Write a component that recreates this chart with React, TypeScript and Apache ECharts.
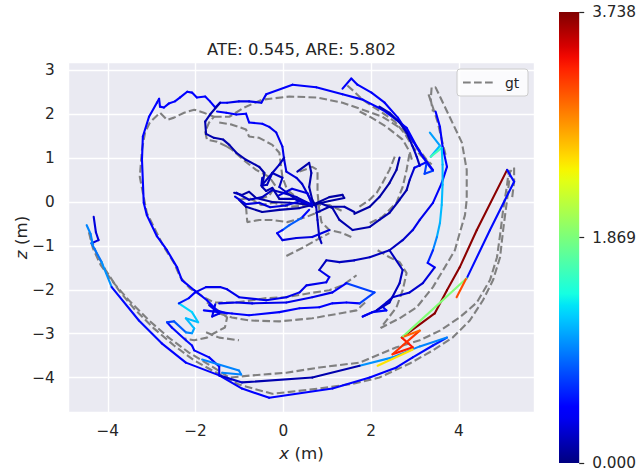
import React, { useEffect, useRef } from 'react';
import * as echarts from 'echarts';

const TITLE = 'ATE: 0.545, ARE: 5.802';
const LEGEND_LABEL = 'gt';
const ERR_MAX = 3.738;
const CBAR_TICKS = [0, 1.869, 3.738];
const X_RANGE = [-4.89, 5.72];
const Z_RANGE = [-4.8, 3.18];

// ---------- estimated trajectory pieces: [x, z, error] ----------
const estOuter = [
  [-4.32, -0.34, 0.3], [-4.27, -0.69, 0.3], [-4.21, -0.87, 0.3], [-4.37, -0.94, 0.9], [-4.14, -1.37, 1.0],
  [-3.91, -1.94, 0.5], [-3.29, -2.7, 0.5], [-2.77, -3.22, 0.45], [-2.22, -3.66, 0.45], [-1.46, -3.95, 0.45],
  [-0.94, -4.25, 0.45], [-0.32, -4.46, 0.45], [1.12, -4.25, 0.45], [1.97, -4.0, 0.45], [2.58, -3.77, 0.45],
  [2.95, -3.54, 0.5], [3.41, -3.27, 0.55], [3.73, -3.09, 0.95], [3.11, -3.29, 0.95], [2.49, -3.54, 1.0],
  [1.74, -3.73, 0.15], [0.66, -4.0, 0.15], [-0.94, -4.11, 0.25], [-1.46, -3.95, 0.4], [-1.46, -3.75, 0.45],
  [-1.69, -3.54, 0.45], [-2.03, -3.38, 0.45], [-2.08, -3.27, 0.5], [-2.22, -3.15, 0.5], [-2.54, -2.86, 0.5],
  [-2.65, -2.74, 0.7], [-2.49, -2.72, 0.8], [-2.22, -2.97, 0.95], [-2.08, -2.99, 1.05], [-2.03, -2.88, 1.15],
  [-2.22, -2.65, 1.15], [-1.94, -2.74, 1.2], [-2.08, -2.51, 1.25], [-2.38, -2.31, 0.55], [-2.15, -2.19, 0.45],
  [-2.01, -2.06, 0.35], [-1.76, -1.94, 0.35], [-1.44, -1.94, 0.35], [-1.28, -1.99, 0.35], [-1.01, -2.17, 0.35],
  [-0.39, -2.24, 0.35], [0.07, -2.17, 0.35], [0.37, -2.06, 0.35], [0.53, -1.9, 0.35], [0.98, -1.83, 0.35],
  [1.05, -1.71, 0.35], [0.82, -1.55, 0.2], [0.98, -1.33, 0.2], [1.28, -1.37, 0.2], [1.62, -1.33, 0.2],
  [1.97, -1.26, 0.2], [2.42, -1.1, 0.2], [2.72, -0.87, 0.25], [2.95, -0.64, 0.35], [3.11, -0.41, 0.35],
  [3.41, -0.02, 0.4], [3.61, 0.43, 0.4], [3.73, 0.8, 0.4], [3.63, 1.26, 0.4], [3.57, 1.71, 0.4],
  [3.47, 2.06, 0.4],
];

const estLeftLoop = [
  [-1.28, -2.54, 0.4], [-1.51, -2.47, 0.4], [-1.74, -2.24, 0.4], [-2.03, -2.01, 0.4], [-2.31, -1.78, 0.4],
  [-2.42, -1.49, 0.4], [-2.65, -1.1, 0.4], [-2.88, -0.78, 0.45], [-3.11, -0.3, 0.45], [-3.18, -0.02, 0.45],
  [-3.22, 0.96, 0.45], [-3.2, 1.49, 0.45], [-3.06, 1.94, 0.45], [-2.88, 2.26, 0.45], [-2.83, 2.35, 0.45],
  [-2.81, 2.17, 0.45], [-2.72, 2.15, 0.45], [-2.61, 2.24, 0.45], [-2.47, 2.29, 0.45], [-2.35, 2.38, 0.45],
  [-2.19, 2.51, 0.45], [-2.08, 2.49, 0.45], [-1.97, 2.38, 0.45], [-1.78, 2.4, 0.45], [-1.67, 2.29, 0.45],
  [-1.55, 2.15, 0.4], [-1.44, 2.26, 0.4], [-1.28, 2.26, 0.35], [-1.01, 2.29, 0.35], [-0.78, 2.29, 0.35],
  [-0.5, 2.26, 0.35], [-0.39, 2.45, 0.4], [0.21, 2.67, 0.4], [0.75, 2.61, 0.4], [1.35, 2.45, 0.4],
  [1.81, 2.33, 0.4], [2.26, 2.1, 0.4], [2.58, 1.87, 0.4], [2.81, 1.69, 0.4], [3.04, 1.26, 0.4],
  [3.27, 0.89, 0.6], [3.41, 0.71, 0.7], [3.22, 0.64, 0.7], [3.27, 0.91, 0.5], [2.99, 0.78, 0.25],
  [2.88, 0.5, 0.15], [2.81, 0.27, 0.15], [2.65, 0.05, 0.15], [2.42, -0.25, 0.15], [2.19, -0.41, 0.15],
  [1.97, -0.57, 0.15], [1.58, -0.64, 0.15], [1.28, -0.41, 0.15], [1.12, -0.14, 0.15], [0.82, -0.02, 0.15],
  [0.66, -0.07, 0.15],
];

const estTopArc2 = [
  [1.35, 2.58, 0.4], [1.55, 2.81, 0.4], [1.69, 2.67, 0.4], [2.01, 2.49, 0.4], [2.31, 2.26, 0.4],
  [2.61, 1.92, 0.4], [2.88, 1.51, 0.4], [3.15, 1.07, 0.45], [3.41, 0.73, 0.45],
];

const estTopArc3 = [
  [2.19, 2.17, 0.2], [2.42, 2.03, 0.2], [2.65, 1.81, 0.2], [2.81, 1.58, 0.2],
  [2.95, 1.26, 0.2], [3.04, 1.03, 0.2], [3.11, 0.82, 0.2],
];

const estLoopA = [
  [-1.44, 2.26, 0.15], [-1.67, 1.99, 0.15], [-1.78, 1.83, 0.15], [-1.76, 1.55, 0.15], [-1.58, 1.46, 0.15],
  [-1.37, 1.42, 0.15], [-1.23, 1.3, 0.15], [-1.07, 1.12, 0.15], [-0.85, 0.96, 0.15], [-0.55, 0.8, 0.15],
  [-0.43, 0.66, 0.15], [-0.48, 0.34, 0.15], [-0.39, 0.25, 0.15], [-0.25, 0.32, 0.15], [-0.09, 0.07, 0.15],
  [0.25, 0.07, 0.15], [0.66, -0.07, 0.15],
];

const estLoopB = [
  [-1.51, 2.06, 0.4], [-1.3, 2.03, 0.4], [-1.07, 1.99, 0.4], [-0.85, 2.01, 0.4], [-0.78, 1.81, 0.4],
  [-0.48, 1.78, 0.4], [-0.32, 1.71, 0.35], [-0.16, 1.58, 0.35], [-0.02, 1.26, 0.35], [0.02, 0.96, 0.3],
  [0.07, 0.69, 0.3], [0.3, 0.55, 0.25], [0.43, 0.41, 0.25], [0.59, 0.11, 0.25], [0.75, -0.11, 0.25],
];

const estCenter1 = [
  [-1.12, 0.21, 0.12], [-0.94, 0.16, 0.12], [-0.78, 0.23, 0.12], [-0.62, 0.09, 0.12], [-0.25, 0, 0.12],
  [0.14, -0.02, 0.12], [0.66, -0.07, 0.12], [1.05, 0.11, 0.12], [1.35, 0.16, 0.12], [1.39, 0.09, 0.12],
  [1.05, 0.02, 0.12], [0.66, -0.07, 0.12], [0.37, -0.14, 0.12], [-0.09, -0.18, 0.12], [-0.48, -0.23, 0.12],
  [-0.85, -0.11, 0.12], [-1.01, 0.05, 0.12],
];

const estCenter2 = [
  [0.32, 0.69, 0.15], [0.59, 0.89, 0.15], [0.64, 0.66, 0.15], [0.59, 0.34, 0.15], [0.66, 0.05, 0.15],
  [0.75, -0.11, 0.2], [0.78, -0.41, 0.2], [0.82, -0.8, 0.2], [0.87, -0.94, 0.2],
];

const estCenter3 = [
  [0.59, -0.18, 0.5], [0.41, -0.37, 0.8], [0.14, -0.53, 0.8], [-0.02, -0.64, 0.5], [-0.14, -0.71, 0.35],
  [-0.02, -0.87, 0.3], [0.3, -0.82, 0.3], [0.66, -0.8, 0.3], [1.05, -0.64, 0.3],
];

const estCenter4 = [
  [0.02, 1.01, 0.2], [-0.09, 0.85, 0.2], [-0.25, 0.66, 0.2], [-0.37, 0.39, 0.2], [-0.5, 0.37, 0.2], [-0.48, 0.55, 0.2],
];

const estCenter5 = [
  [0.75, -0.25, 0.15], [1.05, -0.11, 0.15], [1.39, -0.11, 0.15], [1.62, -0.23, 0.15],
];

const estCenter6 = [
  [-1.07, 0.21, 0.2], [-0.78, 0.05, 0.2], [-0.48, 0.11, 0.2], [-0.25, 0.27, 0.2],
  [-0.02, 0.21, 0.2], [0.3, 0.11, 0.2], [0.66, -0.07, 0.2],
];

const estCenter7 = [
  [-0.48, 0.39, 0.2], [-0.25, 0.66, 0.2], [-0.02, 0.55, 0.2], [-0.09, 0.34, 0.2], [0.3, 0.05, 0.2], [0.66, -0.11, 0.2],
];

const estCenter8 = [
  [-1.1, 0.12, 0.3], [-0.85, -0.05, 0.3], [-0.55, -0.02, 0.3], [-0.3, -0.12, 0.3], [0.05, -0.08, 0.3],
  [0.4, 0.02, 0.3], [0.66, -0.07, 0.3], [0.55, 0.2, 0.3], [0.2, 0.3, 0.3], [-0.1, 0.15, 0.3],
];

const estMidBundle = [
  [-1.81, -2.47, 0.4], [-1.46, -2.51, 0.4], [-1.17, -2.54, 0.4], [-0.78, -2.58, 0.4], [-0.09, -2.51, 0.4],
  [0.37, -2.42, 0.4], [0.82, -2.4, 0.4], [1.12, -2.31, 0.4], [1.44, -2.29, 0.4], [1.74, -2.31, 0.7],
  [2.08, -2.06, 0.7], [1.44, -1.85, 0.4], [1.12, -2.06, 0.35], [0.66, -2.17, 0.35], [0.07, -2.29, 0.35],
  [-0.71, -2.31, 0.35], [-1.07, -2.29, 0.35], [-1.46, -2.31, 0.35],
];

const estMidSmall = [
  [-1.69, -2.35, 0.35], [-1.46, -2.54, 0.35], [-1.62, -2.61, 0.35], [-1.55, -2.33, 0.35],
];

const estHook = [
  [1.81, -2.61, 0.5], [2.03, -2.51, 0.5], [2.35, -2.47, 0.5], [2.26, -2.38, 0.5],
];

const estCyan = [
  [3.34, 1.58, 1.05], [3.57, 1.28, 1.15], [3.36, 1.03, 1.6], [3.61, 1.23, 1.2], [3.63, 0.85, 1.15],
  [3.63, 0.39, 1.15], [3.61, -0.07, 1.15], [3.57, -0.48, 1.1], [3.5, -0.8, 0.95], [3.41, -1.1, 0.6],
  [3.29, -1.39, 0.45], [3.45, -1.49, 0.3], [3.18, -1.85, 0.25], [2.88, -2.06, 0.25], [2.49, -2.17, 0.25],
  [2.35, -2.29, 0.3], [2.13, -2.47, 0.35], [1.81, -2.61, 0.35],
];

const estInnerRight1 = [
  [2.65, 1.01, 0.12], [2.58, 0.73, 0.12], [2.42, 0.43, 0.12], [2.19, 0.11, 0.12], [1.97, -0.11, 0.12], [1.62, -0.27, 0.12],
];

const estInnerRight2 = [
  [2.42, -1.1, 0.2], [2.72, -1.55, 0.2], [2.65, -1.85, 0.2], [2.42, -2.29, 0.2], [2.13, -2.47, 0.2],
];

const estRed = [
  [2.7, -3.09, 3.7], [3.45, -2.54, 3.7], [3.73, -2.01, 3.7], [4.02, -1.49, 3.7], [4.41, -0.64, 3.7],
  [5.1, 0.73, 0.5], [5.26, 0.46, 0.5], [4.71, -0.64, 0.5], [4.18, -1.74, 1.9], [2.7, -3.09, 3.3],
  [2.95, -3.31, 3.3], [2.49, -3.47, 3.2], [3.11, -2.93, 3.0], [2.77, -3.06, 3.0],
];

const estYellow = [[2.95, -3.36, 2.5], [2.15, -3.73, 2.5]];
const estOrangeStub = [[4.16, -1.76, 3.1], [3.95, -2.17, 3.1]];
const estStartBit = [[-4.48, -0.53, 0.95], [-4.39, -0.73, 0.95], [-4.34, -0.98, 0.95]];
const estLightBottom = [[-1.85, -3.59, 0.95], [-1.01, -3.84, 0.95], [-0.96, -3.93, 0.95], [-1.39, -3.89, 0.95]];

const estPieces = [
  estOuter, estLeftLoop, estTopArc2, estTopArc3, estLoopA, estLoopB, estCenter1, estCenter2, estCenter3,
  estCenter4, estCenter5, estCenter6, estCenter7, estCenter8, estMidBundle, estMidSmall, estHook, estCyan,
  estInnerRight1, estInnerRight2, estRed, estYellow, estOrangeStub, estStartBit, estLightBottom,
];

// ---------- ground truth pieces: [x, z] ----------
const gtOuter = [
  [-4.39, -0.82], [-4.27, -1.14], [-4.05, -1.55], [-3.75, -2.01], [-3.41, -2.42], [-2.95, -2.88], [-2.49, -3.27],
  [-2.03, -3.61], [-1.58, -3.86], [-1.01, -4.16], [-0.25, -4.37], [0.82, -4.25], [1.58, -4.14], [2.19, -4.0],
  [2.88, -3.68], [3.41, -3.38], [3.86, -3.09], [4.25, -2.7], [4.55, -2.24], [4.78, -1.78], [4.94, -1.26],
  [5.01, -0.64], [5.1, 0.05], [5.17, 0.69], [5.26, 0.78], [5.26, 0.46], [5.21, 0.05],
];

const gtOuter2 = [
  [-4.43, -0.69], [-4.34, -1.05], [-4.16, -1.44], [-3.86, -1.85], [-3.52, -2.24], [-3.06, -2.7], [-2.61, -3.09],
  [-2.15, -3.43], [-1.62, -3.75], [-1.23, -4.0], [-0.71, -3.95], [0.07, -3.89], [0.82, -3.77], [1.74, -3.66],
  [2.58, -3.31], [3.11, -3.15], [3.57, -2.93], [4.02, -2.63], [4.41, -2.29], [4.71, -1.78], [4.87, -1.26],
  [4.94, -0.75], [5.01, -0.18], [5.1, 0.39], [5.14, 0.73],
];

const gtRightInner = [
  [2.15, -1.1], [2.42, -1.26], [2.65, -1.37], [2.81, -1.62], [2.72, -2.01], [2.58, -2.4], [2.22, -2.87],
  [2.65, -2.65], [3.04, -2.4], [3.41, -1.94], [3.68, -1.49], [3.91, -1.1], [4.02, -0.71], [4.14, -0.3],
  [4.18, 0.05], [4.18, 0.73], [4.07, 1.35], [3.79, 1.94], [3.57, 2.4], [3.47, 2.61], [3.38, 2.61],
  [3.36, 2.33], [3.41, 2.06],
];

const gtRightInner2 = [[3.31, 2.45], [3.41, 2.15], [3.52, 1.81], [3.61, 1.42], [3.7, 1.07]];

const gtLeftLoop = [
  [-1.28, 1.26], [-1.51, 1.37], [-1.74, 1.42], [-1.78, 1.6], [-1.69, 1.81], [-1.58, 1.94], [-1.81, 2.03],
  [-2.03, 2.1], [-2.26, 2.03], [-2.49, 1.92], [-2.65, 1.87], [-2.81, 2.03], [-3.04, 1.81], [-3.15, 1.58],
  [-3.22, 1.19], [-3.27, 0.57], [-3.2, 0.21], [-3.11, -0.25], [-2.88, -0.71], [-2.72, -1.03], [-2.49, -1.39],
  [-2.35, -1.71], [-2.13, -1.97], [-1.81, -2.17], [-1.58, -2.29], [-1.07, -2.29], [-0.71, -2.24],
  [-0.39, -2.19], [0.07, -2.17], [0.59, -2.08], [1.05, -2.01], [1.35, -1.9], [1.67, -1.67],
];

const gtTopArc = [
  [-1.58, 1.94], [-1.23, 1.94], [-0.89, 2.15], [-0.48, 2.33], [0.14, 2.4], [0.75, 2.38], [1.35, 2.26],
  [1.81, 2.1], [2.26, 1.94], [2.72, 1.65], [3.04, 1.26], [3.27, 0.96], [3.38, 0.85],
];

const gtTopArc2 = [
  [1.46, 2.65], [1.62, 2.51], [1.78, 2.35], [2.01, 2.19], [2.26, 2.03], [2.54, 1.83], [2.77, 1.55],
  [2.97, 1.23], [3.18, 1.01], [3.34, 0.87],
];

const gtTopArc3 = [[1.74, 2.06], [2.01, 1.92], [2.35, 1.71], [2.72, 1.42], [2.88, 1.14], [2.93, 0.96]];

const gtInnerA = [
  [-1.46, 1.81], [-1.17, 1.76], [-0.85, 1.65], [-0.78, 1.49], [-0.55, 1.46], [-0.25, 1.3], [-0.09, 1.12],
  [-0.05, 0.8], [-0.02, 0.57], [0.09, 0.27], [0.37, 0.05], [0.66, -0.07],
];

const gtInnerB = [
  [-1.28, 1.26], [-1.17, 1.19], [-0.85, 0.91], [-0.62, 0.73], [-0.32, 0.57], [-0.18, 0.37], [-0.32, 0.14], [-0.59, 0.05],
];

const gtCenterA = [
  [0.37, 0.69], [0.66, 0.8], [0.78, 0.73], [0.78, 0.21], [0.82, -0.18], [0.87, -0.46], [1.05, -0.64], [1.35, -0.71], [1.55, -0.8],
];

const gtCenterB = [[-0.85, -0.11], [-0.82, -0.46], [-0.55, -0.41], [-0.25, -0.41], [0.09, -0.46], [0.53, -0.34], [0.75, -0.25]];
const gtCenterC = [[0.07, -1.23], [0.43, -1.05], [0.75, -0.87], [1.05, -0.71]];
const gtCenterD = [[-1.01, 0.05], [-0.78, 0.09], [-0.5, -0.07], [-0.21, -0.02], [0.14, -0.11], [0.66, -0.07], [1.05, -0.07], [1.39, -0.23]];

const gtLowMid = [[-1.46, -2.54], [-1.17, -2.63], [-0.78, -2.7], [-0.09, -2.72], [0.66, -2.65], [1.28, -2.54], [1.67, -2.47], [1.92, -2.24]];
const gtZig = [[-1.74, -2.29], [-1.58, -2.4], [-1.28, -2.63], [-1.33, -2.86], [-1.58, -2.99], [-1.74, -3.09], [-2.03, -3.15], [-2.26, -3.11]];
const gtZig2 = [[-1.76, -2.97], [-1.46, -3.09], [-1.01, -3.15]];
const gtRightMid = [[1.97, -0.48], [2.26, -0.34], [2.58, -0.02], [2.72, 0.34], [2.81, 0.73], [2.88, 1.12]];
const gtRightMid2 = [[2.54, 1.03], [2.42, 0.73], [2.26, 0.43], [2.13, 0.21], [1.97, 0.05], [1.69, -0.14]];

const gtPieces = [
  gtOuter, gtOuter2, gtRightInner, gtRightInner2, gtLeftLoop, gtTopArc, gtTopArc2, gtTopArc3, gtInnerA,
  gtInnerB, gtCenterA, gtCenterB, gtCenterC, gtCenterD, gtLowMid, gtZig, gtZig2, gtRightMid, gtRightMid2,
];

// ---------- helpers ----------
function jet(t: number): string {
  const v = Math.max(0, Math.min(1, t));
  let r: number, g: number, b: number;
  if (v < 0.35) r = 0; else if (v < 0.66) r = (v - 0.35) / 0.31; else if (v < 0.89) r = 1; else r = 1 - 0.5 * (v - 0.89) / 0.11;
  if (v < 0.125) g = 0; else if (v < 0.375) g = (v - 0.125) / 0.25; else if (v < 0.64) g = 1; else if (v < 0.91) g = 1 - (v - 0.64) / 0.27; else g = 0;
  if (v < 0.11) b = 0.5 + 0.5 * v / 0.11; else if (v < 0.34) b = 1; else if (v < 0.65) b = 1 - (v - 0.34) / 0.31; else b = 0;
  const c = (x: number) => Math.round(Math.max(0, Math.min(1, x)) * 255);
  return `rgb(${c(r)},${c(g)},${c(b)})`;
}

const tickFmt = (v: number) => {
  const r = Math.round(v);
  if (Math.abs(v - r) > 1e-6) return '';
  return r < 0 ? '\u2212' + Math.abs(r) : String(r);
};

const FONT = 'DejaVu Sans';
const TEXT_COLOR = '#262626';

export default function App() {
  const ref = useRef<HTMLDivElement>(null);

  useEffect(() => {
    if (!ref.current) return;
    const chart = echarts.init(ref.current, undefined, { renderer: 'svg' });

    const segs: number[][] = [];
    estPieces.forEach((p) => {
      for (let i = 0; i < p.length - 1; i++) {
        segs.push([p[i][0], p[i][1], p[i + 1][0], p[i + 1][1], p[i][2]]);
      }
    });

    const stops: { offset: number; color: string }[] = [];
    for (let i = 0; i <= 40; i++) {
      const off = i / 40;
      stops.push({ offset: off, color: jet(1 - off) });
    }

    const gtSeries = gtPieces.map((p) => ({
      type: 'line',
      xAxisIndex: 0,
      yAxisIndex: 0,
      data: p,
      symbol: 'none',
      showSymbol: false,
      silent: true,
      z: 2,
      lineStyle: { color: '#808080', width: 2.1, type: [7.7, 3.3] },
    }));

    const option: any = {
      animation: false,
      textStyle: { fontFamily: FONT },
      grid: [
        { left: 68.7, top: 62.3, width: 465.6, height: 350.4, show: true, backgroundColor: '#EAEAF2', borderWidth: 0 },
        { left: 559, top: 12, width: 21, height: 451, show: false },
      ],
      xAxis: [
        {
          type: 'value', gridIndex: 0, min: X_RANGE[0], max: X_RANGE[1], splitNumber: 5,
          axisLine: { show: false }, axisTick: { show: false },
          axisLabel: { formatter: tickFmt, fontSize: 15.3, color: TEXT_COLOR, margin: 11, fontFamily: FONT },
          splitLine: { show: true, lineStyle: { color: '#ffffff', width: 1.4 } },
        },
        { type: 'category', gridIndex: 1, data: ['cb'], show: false },
      ],
      yAxis: [
        {
          type: 'value', gridIndex: 0, min: Z_RANGE[0], max: Z_RANGE[1], splitNumber: 8,
          axisLine: { show: false }, axisTick: { show: false },
          axisLabel: { formatter: tickFmt, fontSize: 15.3, color: TEXT_COLOR, margin: 14, fontFamily: FONT },
          splitLine: { show: true, lineStyle: { color: '#ffffff', width: 1.4 } },
        },
        {
          type: 'value', gridIndex: 1, min: CBAR_TICKS[0], max: CBAR_TICKS[2], interval: CBAR_TICKS[1],
          position: 'right',
          axisLine: { show: false },
          axisTick: { show: true, length: 5, lineStyle: { color: TEXT_COLOR, width: 1.2 } },
          axisLabel: { formatter: (v: number) => v.toFixed(3), fontSize: 15.3, color: TEXT_COLOR, margin: 13, fontFamily: FONT },
          splitLine: { show: false },
        },
      ],
      series: [
        ...gtSeries,
        {
          type: 'custom',
          xAxisIndex: 0,
          yAxisIndex: 0,
          data: segs,
          encode: { x: [0, 2], y: [1, 3] },
          silent: true,
          z: 3,
          renderItem: (_params: any, api: any) => {
            const a = api.coord([api.value(0), api.value(1)]);
            const b = api.coord([api.value(2), api.value(3)]);
            return {
              type: 'line',
              shape: { x1: a[0], y1: a[1], x2: b[0], y2: b[1] },
              style: { stroke: jet(api.value(4) / ERR_MAX), lineWidth: 2.1, lineCap: 'round', fill: null },
            };
          },
        },
        {
          type: 'bar',
          xAxisIndex: 1,
          yAxisIndex: 1,
          data: [ERR_MAX],
          barWidth: '100%',
          silent: true,
          itemStyle: { color: new echarts.graphic.LinearGradient(0, 0, 0, 1, stops) },
        },
      ],
      graphic: [
        {
          type: 'text', x: 301.5, y: 49, silent: true,
          style: { text: TITLE, fontSize: 16.4, fontFamily: FONT, fill: TEXT_COLOR, align: 'center', verticalAlign: 'middle' },
        },
        {
          type: 'text', x: 301.5, y: 453, silent: true,
          style: {
            text: '{i|x} (m)', fontSize: 16.7, fontFamily: FONT, fill: TEXT_COLOR, align: 'center', verticalAlign: 'middle',
            rich: { i: { fontStyle: 'italic', fontSize: 16.7, fontFamily: FONT, fill: TEXT_COLOR } },
          },
        },
        {
          type: 'text', x: 21, y: 237.5, rotation: Math.PI / 2, silent: true,
          style: {
            text: '{i|z} (m)', fontSize: 16.7, fontFamily: FONT, fill: TEXT_COLOR, align: 'center', verticalAlign: 'middle',
            rich: { i: { fontStyle: 'italic', fontSize: 16.7, fontFamily: FONT, fill: TEXT_COLOR } },
          },
        },
        {
          type: 'rect', x: 457, y: 69, silent: true, z: 10,
          shape: { x: 0, y: 0, width: 71, height: 27, r: 3 },
          style: { fill: 'rgba(255,255,255,0.8)', stroke: '#cccccc', lineWidth: 1 },
        },
        {
          type: 'line', silent: true, z: 11,
          shape: { x1: 463, y1: 82.5, x2: 493, y2: 82.5 },
          style: { stroke: '#808080', lineWidth: 2.1, lineDash: [7.7, 3.3] },
        },
        {
          type: 'text', x: 505, y: 82.5, silent: true, z: 11,
          style: { text: LEGEND_LABEL, fontSize: 13.9, fontFamily: FONT, fill: TEXT_COLOR, align: 'left', verticalAlign: 'middle' },
        },
      ],
    };

    chart.setOption(option);
    return () => chart.dispose();
  }, []);

  return <div ref={ref} style={{ position: 'absolute', left: 0, top: 0, width: 639, height: 473 }} />;
}
